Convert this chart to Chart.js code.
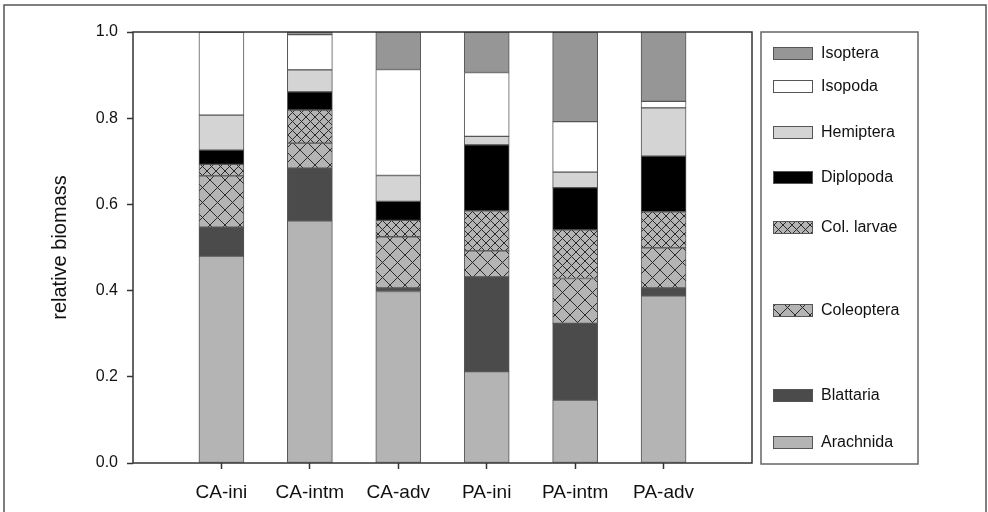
<!DOCTYPE html>
<html>
<head>
<meta charset="utf-8">
<title>relative biomass</title>
<script src="https://cdn.jsdelivr.net/npm/chart.js@4.4.1/dist/chart.umd.min.js"></script>
<style>
  body { margin: 0; background: #fff; }
  #chart { display: block; }
</style>
</head>
<body>
<canvas id="chart" width="988" height="512"></canvas>
<script>
// categories (sites)
let categories = ["CA-ini", "CA-intm", "CA-adv", "PA-ini", "PA-intm", "PA-adv"];

// relative biomass per taxon, bottom of the stack first
let arachnida = [0.48, 0.562, 0.398, 0.212, 0.146, 0.388];
let blattaria = [0.067, 0.122, 0.008, 0.22, 0.178, 0.018];
let coleoptera = [0.119, 0.058, 0.119, 0.06, 0.104, 0.093];
let colLarvae = [0.027, 0.077, 0.038, 0.093, 0.113, 0.084];
let diplopoda = [0.033, 0.042, 0.044, 0.153, 0.098, 0.129];
let hemiptera = [0.081, 0.051, 0.06, 0.02, 0.036, 0.112];
let isopoda = [0.193, 0.082, 0.246, 0.148, 0.117, 0.015];
let isoptera = [0, 0.006, 0.088, 0.094, 0.208, 0.162];

let yTicks = [0, 0.2, 0.4, 0.6, 0.8, 1.0];

// cross hatch pattern like the SigmaPlot fills
function hatch(size) {
  let c = document.createElement("canvas");
  c.width = size;
  c.height = size;
  let g = c.getContext("2d");
  g.fillStyle = "#b4b4b4";
  g.fillRect(0, 0, size, size);
  g.strokeStyle = "#2a2a2a";
  g.lineWidth = 1;
  g.beginPath();
  g.moveTo(0, 0);
  g.lineTo(size, size);
  g.moveTo(size, 0);
  g.lineTo(0, size);
  g.stroke();
  return document.getElementById("chart").getContext("2d").createPattern(c, "repeat");
}

let series = [
  { label: "Arachnida", data: arachnida, color: "#b4b4b4", legendY: 442 },
  { label: "Blattaria", data: blattaria, color: "#4b4b4b", legendY: 395 },
  { label: "Coleoptera", data: coleoptera, color: hatch(15), legendY: 310 },
  { label: "Col. larvae", data: colLarvae, color: hatch(9), legendY: 227 },
  { label: "Diplopoda", data: diplopoda, color: "#000000", legendY: 177 },
  { label: "Hemiptera", data: hemiptera, color: "#d4d4d4", legendY: 132 },
  { label: "Isopoda", data: isopoda, color: "#ffffff", legendY: 86 },
  { label: "Isoptera", data: isoptera, color: "#969696", legendY: 53 },
];

// empty slots left and right so the bars sit like the original axis
let labels = [""].concat(categories, [""]);

let datasets = series.map((s) => {
  return {
    label: s.label,
    data: [null].concat(s.data, [null]),
    backgroundColor: s.color,
    borderColor: "#555",
    borderWidth: 1,
    borderSkipped: false,
    barThickness: 45,
  };
});

// frames + legend box drawn by hand
let framePlugin = {
  id: "frames",
  beforeDraw(chart) {
    let ctx = chart.ctx;
    ctx.save();
    ctx.fillStyle = "#fff";
    ctx.fillRect(0, 0, chart.width, chart.height);
    ctx.restore();
  },
  afterDraw(chart) {
    let ctx = chart.ctx;
    let a = chart.chartArea;
    ctx.save();
    // outer frame
    ctx.strokeStyle = "#555";
    ctx.lineWidth = 1.5;
    ctx.strokeRect(4, 5, 982, 530);
    // plot frame
    ctx.strokeStyle = "#333";
    ctx.strokeRect(a.left, a.top, a.right - a.left, a.bottom - a.top);
    // legend box
    ctx.strokeStyle = "#666";
    ctx.strokeRect(761, 32, 157, 432);
    ctx.font = "16px 'Liberation Sans', Arial, sans-serif";
    ctx.textBaseline = "middle";
    ctx.textAlign = "left";
    series.forEach((s) => {
      ctx.fillStyle = s.color;
      ctx.fillRect(773, s.legendY - 6, 39, 12);
      ctx.strokeStyle = "#555";
      ctx.lineWidth = 1;
      ctx.strokeRect(773.5, s.legendY - 5.5, 39, 12);
      ctx.fillStyle = "#111";
      ctx.fillText(s.label, 821, s.legendY + 1);
    });
    ctx.restore();
  },
};

let config = {
  type: "bar",
  data: {
    labels: labels,
    datasets: datasets,
  },
  options: {
    responsive: false,
    animation: false,
    devicePixelRatio: 1,
    layout: {
      padding: { left: 0, top: 32, right: 236, bottom: 0 },
    },
    scales: {
      x: {
        stacked: true,
        offset: false,
        border: { display: false },
        grid: {
          offset: false,
          drawOnChartArea: false,
          drawTicks: true,
          tickLength: 6,
          tickWidth: 1.5,
          tickColor: (c) => (c.index === 0 || c.index === labels.length - 1 ? "rgba(0,0,0,0)" : "#333"),
        },
        ticks: {
          color: "#111",
          padding: 12,
          maxRotation: 0,
          autoSkip: false,
          font: { family: "'Liberation Sans', Arial, sans-serif", size: 19 },
        },
        afterFit: (scale) => {
          scale.height = 49;
        },
      },
      y: {
        stacked: true,
        min: 0,
        max: 1,
        border: { display: false },
        grid: {
          drawOnChartArea: false,
          drawTicks: true,
          tickLength: 6,
          tickWidth: 1.5,
          tickColor: "#333",
        },
        afterBuildTicks: (scale) => {
          scale.ticks = yTicks.map((v) => ({ value: v }));
        },
        ticks: {
          color: "#111",
          padding: 9,
          callback: (v) => Number(v).toFixed(1),
          font: { family: "'Liberation Sans', Arial, sans-serif", size: 16 },
        },
        title: {
          display: true,
          text: "relative biomass",
          color: "#111",
          padding: { top: 48, bottom: 0 },
          font: { family: "'Liberation Sans', Arial, sans-serif", size: 20 },
        },
        afterFit: (scale) => {
          scale.width = 133;
        },
      },
    },
    plugins: {
      legend: { display: false },
      tooltip: { enabled: false },
    },
  },
  plugins: [framePlugin],
};

//create chart
let chart = new Chart(document.getElementById("chart"), config);
</script>
</body>
</html>
